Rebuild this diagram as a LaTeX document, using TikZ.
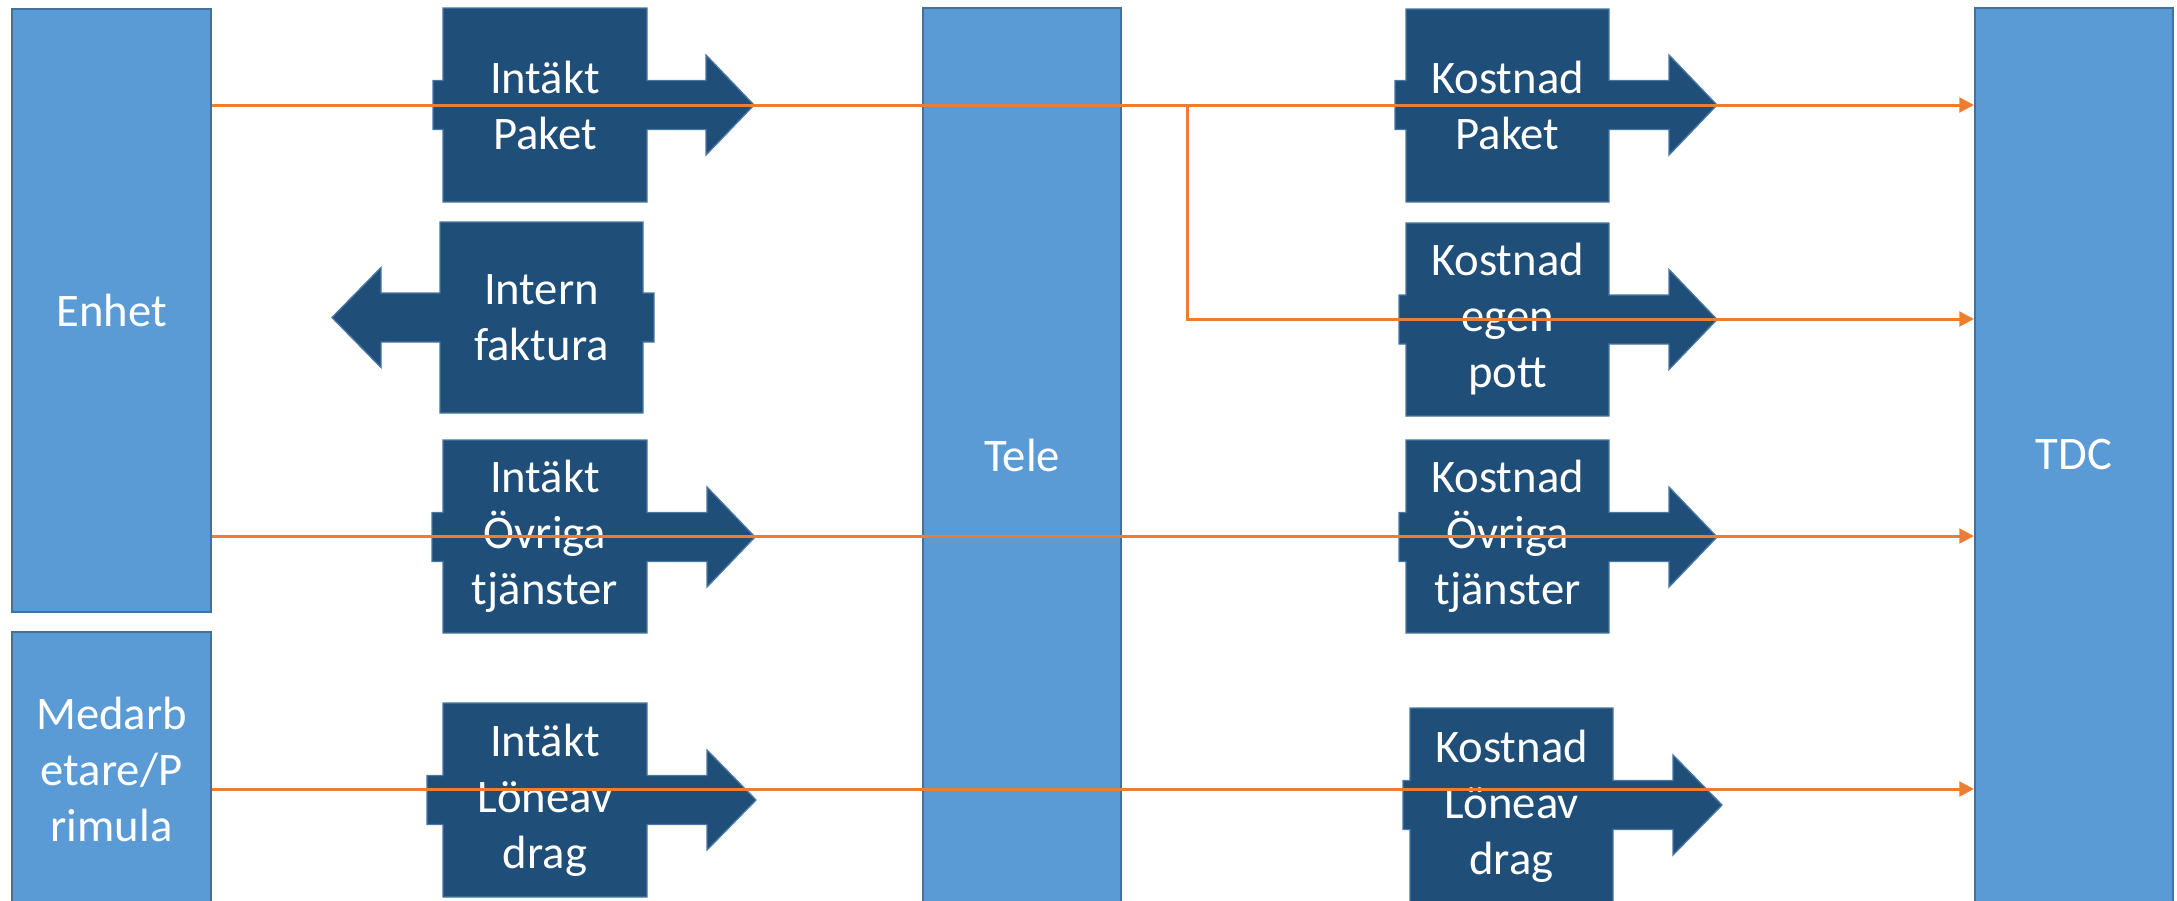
\documentclass[tikz,border=0pt]{standalone}
\usepackage{fontspec}
\setmainfont{Carlito}
\usetikzlibrary{arrows.meta}

\tikzset{every picture/.style={line width=0.75pt}}
\tikzset{
  unitbar/.style={draw={rgb, 255:red, 65; green, 113; blue, 156}, fill={rgb, 255:red, 91; green, 155; blue, 213}, line width=1.5pt, text=white, align=center, font=\fontsize{35}{42}\selectfont, inner sep=0pt},
  arrowbox/.style={draw={rgb, 255:red, 72; green, 118; blue, 165}, fill={rgb, 255:red, 31; green, 78; blue, 121}, line width=1pt},
  boxtext/.style={text=white, align=center, font=\fontsize{35}{42}\selectfont, inner sep=0pt},
  flow/.style={draw={rgb, 255:red, 237; green, 125; blue, 49}, line width=2.25pt, -{Triangle[length=11pt,width=11pt]}},
}

\begin{document}
\begin{tikzpicture}[x=0.75pt,y=0.75pt,yscale=-1,xscale=1]
	\useasboundingbox (0,0) rectangle (2177,900);
	\clip (0,0) rectangle (2177,900);
	
	%Shape: Rectangle [Enhet]
	\node[unitbar, minimum width=149.25pt, minimum height=452.25pt] (enhet) at (111.5,310.5) {Enhet};
	%Shape: Rectangle [Medarbetare/Primula]
	\node[unitbar, minimum width=149.25pt, minimum height=205.5pt] (primula) at (111.5,769) {Medarb\\etare/P\\rimula};
	%Shape: Rectangle [Tele]
	\node[unitbar, minimum width=148.5pt, minimum height=670.5pt] (tele) at (1022,455) {Tele};
	%Shape: Rectangle [TDC]
	\node[unitbar, minimum width=148.5pt, minimum height=670.5pt] (tdc) at (2074,455) {TDC};
	
	%Shape: Right Arrow Callout [Intakt Paket]
	\draw[arrowbox] (443,8) -- (647,8) -- (647,80.5) -- (706,80.5) -- (706,55) -- (754,105) -- (706,155) -- (706,129.5) -- (647,129.5) -- (647,202) -- (443,202) -- (443,129.5) -- (433,129.5) -- (433,80.5) -- (443,80.5) -- cycle ;
	%Shape: Left Arrow Callout [Intern faktura]
	\draw[arrowbox] (440,222) -- (643,222) -- (643,293) -- (654,293) -- (654,342) -- (643,342) -- (643,413) -- (440,413) -- (440,342) -- (381,342) -- (381,367.5) -- (332,317.5) -- (381,267.5) -- (381,293) -- (440,293) -- cycle ;
	%Shape: Right Arrow Callout [Intakt Ovriga]
	\draw[arrowbox] (443,440) -- (647,440) -- (647,512.5) -- (707,512.5) -- (707,487) -- (755,537) -- (707,587) -- (707,561.5) -- (647,561.5) -- (647,633) -- (443,633) -- (443,561.5) -- (432,561.5) -- (432,512.5) -- (443,512.5) -- cycle ;
	%Shape: Right Arrow Callout [Intakt Loneavdrag]
	\draw[arrowbox] (443,703) -- (647,703) -- (647,775.5) -- (707,775.5) -- (707,750) -- (756,800) -- (707,850) -- (707,824.5) -- (647,824.5) -- (647,897) -- (443,897) -- (443,824.5) -- (427,824.5) -- (427,775.5) -- (443,775.5) -- cycle ;
	%Shape: Right Arrow Callout [Kostnad Paket]
	\draw[arrowbox] (1406,9) -- (1609,9) -- (1609,80.5) -- (1669,80.5) -- (1669,55) -- (1717,105) -- (1669,155) -- (1669,129.5) -- (1609,129.5) -- (1609,202) -- (1406,202) -- (1406,129.5) -- (1395,129.5) -- (1395,80.5) -- (1406,80.5) -- cycle ;
	%Shape: Right Arrow Callout [Kostnad egen pott]
	\draw[arrowbox] (1406,223) -- (1609,223) -- (1609,295) -- (1669,295) -- (1669,269.5) -- (1717,319.5) -- (1669,369.5) -- (1669,344) -- (1609,344) -- (1609,416) -- (1406,416) -- (1406,344) -- (1399,344) -- (1399,295) -- (1406,295) -- cycle ;
	%Shape: Right Arrow Callout [Kostnad Ovriga]
	\draw[arrowbox] (1406,440) -- (1609,440) -- (1609,512.5) -- (1669,512.5) -- (1669,487) -- (1717,537) -- (1669,587) -- (1669,561.5) -- (1609,561.5) -- (1609,633) -- (1406,633) -- (1406,561.5) -- (1399,561.5) -- (1399,512.5) -- (1406,512.5) -- cycle ;
	%Shape: Right Arrow Callout [Kostnad Loneavdrag]
	\draw[arrowbox] (1410,708) -- (1613,708) -- (1613,780.5) -- (1673,780.5) -- (1673,755) -- (1722,805) -- (1673,855) -- (1673,829.5) -- (1613,829.5) -- (1613,905) -- (1410,905) -- (1410,829.5) -- (1403,829.5) -- (1403,780.5) -- (1410,780.5) -- cycle ;
	
	\node[boxtext] (ipaket) at (545,105) {Intäkt\\Paket};
	\node[boxtext] (faktura) at (541.5,317.5) {Intern\\faktura};
	\node[boxtext] (iovriga) at (545,536.5) {Intäkt\\Övriga\\tjänster};
	\node[boxtext] (iloneavdrag) at (545,800) {Intäkt\\Löneav\\drag};
	\node[boxtext] (kpaket) at (1507.5,105.5) {Kostnad\\Paket};
	\node[boxtext] (kpott) at (1507.5,319.5) {Kostnad\\egen\\pott};
	\node[boxtext] (kovriga) at (1507.5,536.5) {Kostnad\\Övriga\\tjänster};
	\node[boxtext] (kloneavdrag) at (1511.5,806) {Kostnad\\Löneav\\drag};
	
	%flows
	\coordinate (paketrow) at (0,105);
	\coordinate (pottrow) at (0,319);
	\coordinate (ovrigarow) at (0,536);
	\coordinate (lonerow) at (0,789);
	\coordinate (split) at (1187,105);
	\draw[flow] (enhet.east |- paketrow) -- (tdc.west |- paketrow);
	\draw[flow] (split) |- (tdc.west |- pottrow);
	\draw[flow] (enhet.east |- ovrigarow) -- (tdc.west |- ovrigarow);
	\draw[flow] (primula.east |- lonerow) -- (tdc.west |- lonerow);
\end{tikzpicture}
\end{document}
